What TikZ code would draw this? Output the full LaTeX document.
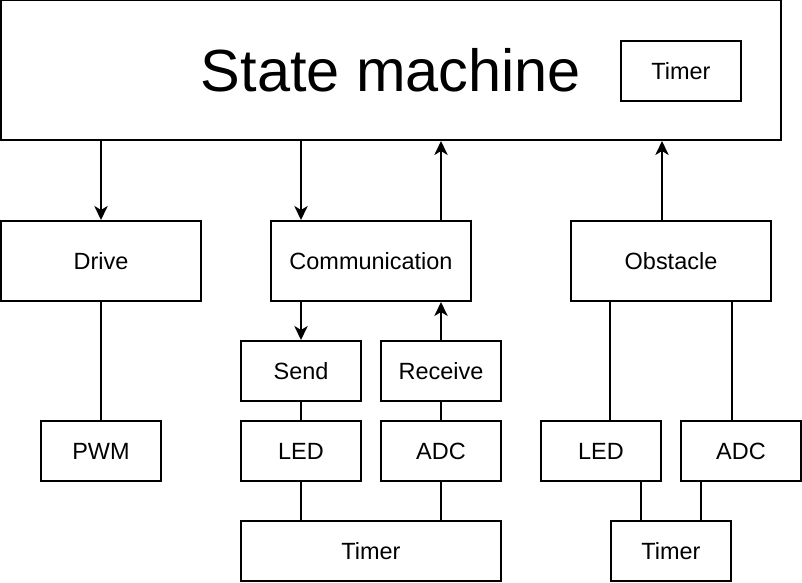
\documentclass[tikz,border=0pt]{standalone}
\usepackage{fontspec}
\setmainfont{Liberation Sans}
\usetikzlibrary{arrows.meta,calc}
\begin{document}
\begin{tikzpicture}[x=0.75pt,y=-0.75pt,
  box/.style n args={2}{draw,line width=1.5pt,rectangle,inner sep=0pt,
    minimum width=#1*0.75pt,minimum height=#2*0.75pt,
    font=\fontsize{17.6}{20}\selectfont},
  ln/.style={line width=1.5pt},
  arr/.style={line width=1.5pt,-{Stealth[length=10.5pt,width=10pt,inset=3pt]}}]
\useasboundingbox (0,0) rectangle (802,582);
\node[box={780}{140},font=\fontsize{44.6}{50}\selectfont] (sm) at (391,70) {State machine};
\node[box={120}{60}] (smt) at (681,71) {Timer};
\node[box={200}{80}] (drive) at (101,261) {Drive};
\node[box={200}{80}] (comm) at (371,261) {Communication};
\node[box={200}{80}] (obst) at (671,261) {Obstacle};
\node[box={120}{60}] (send) at (301,371) {Send};
\node[box={120}{60}] (recv) at (441,371) {Receive};
\node[box={120}{60}] (pwm) at (101,451) {PWM};
\node[box={120}{60}] (led1) at (301,451) {LED};
\node[box={120}{60}] (adc1) at (441,451) {ADC};
\node[box={120}{60}] (led2) at (601,451) {LED};
\node[box={120}{60}] (adc2) at (741,451) {ADC};
\node[box={260}{60}] (tim1) at (371,551) {Timer};
\node[box={120}{60}] (tim2) at (671,551) {Timer};
% arrows
\draw[arr] (sm.south -| drive.north) -- (drive.north);
\draw[arr] (sm.south -| send.north) -- (comm.north -| send.north);
\draw[arr] (comm.north -| recv.north) -- (sm.south -| recv.north);
\draw[arr] (obst.north -| led2.east) -- (sm.south -| led2.east);
\draw[arr] (comm.south -| send.north) -- (send.north);
\draw[arr] (recv.north) -- (comm.south -| recv.north);
% plain lines
\draw[ln] (drive.south) -- (pwm.north);
\draw[ln] (send.south) -- (led1.north);
\draw[ln] (recv.south) -- (adc1.north);
\draw[ln] (led1.south) -- (tim1.north -| led1.south);
\draw[ln] (adc1.south) -- (tim1.north -| adc1.south);
\draw[ln] (obst.south -| tim2.west) -- (led2.north -| tim2.west);
\draw[ln] (obst.south -| tim2.east) -- (adc2.north -| tim2.east);
\draw[ln] ($(tim2.north)+(-30,0)$) -- (led2.south -| {$(tim2.north)+(-30,0)$});
\draw[ln] ($(tim2.north)+(30,0)$) -- (adc2.south -| {$(tim2.north)+(30,0)$});
\end{tikzpicture}
\end{document}
